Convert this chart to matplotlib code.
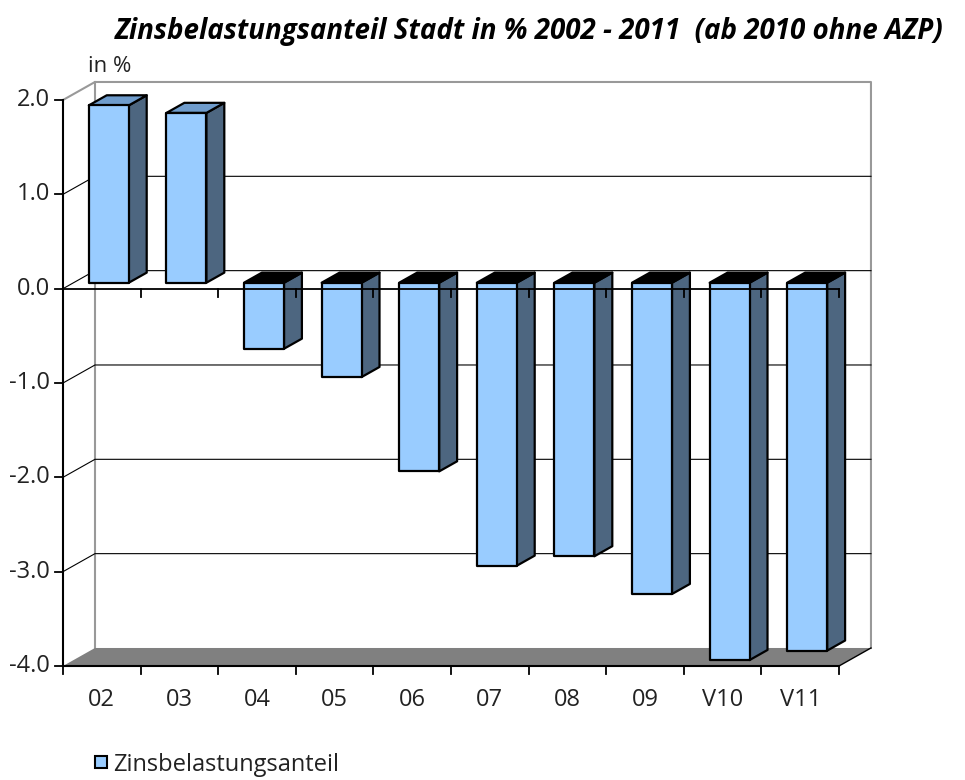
import matplotlib.pyplot as plt
from matplotlib.patches import Polygon, Rectangle

categories = ['02', '03', '04', '05', '06', '07', '08', '09', 'V10', 'V11']
values = [1.88, 1.80, -0.70, -1.00, -2.00, -3.00, -2.90, -3.30, -4.00, -3.90]
yticks = [2.0, 1.0, 0.0, -1.0, -2.0, -3.0, -4.0]
title = 'Zinsbelastungsanteil Stadt in % 2002 - 2011  (ab 2010 ohne AZP)'
unit_label = 'in %'
legend_label = 'Zinsbelastungsanteil'

FRONT = '#99ccff'
SIDE = '#4d6680'
TOP_POS = '#6f9ccc'
FLOOR = '#808080'
WALL = '#999999'
FONT = 'Open Sans'

W, H = 965, 780
fig = plt.figure(figsize=(W / 100, H / 100), dpi=100)
ax = fig.add_axes([63 / W, (H - 666) / H, 776 / W, 566 / H])
ymin, ymax = yticks[-1], yticks[0]
n = len(categories)
ax.set_xlim(0, n)
ax.set_ylim(ymin, ymax)
ax.axis('off')

# depth of the fake 3d box in data units
DX, DY = 0.412, 0.191

# back wall and side wall
ax.plot([0, DX, n + DX, n + DX], [ymax, ymax + DY, ymax + DY, ymin + DY],
        color=WALL, lw=1.5, clip_on=False, zorder=1)
ax.plot([DX, DX], [ymin + DY, ymax + DY], color=WALL, lw=1.5, clip_on=False, zorder=1)
for t in yticks[1:-1]:
    ax.plot([0, DX, n + DX], [t, t + DY, t + DY], color='black', lw=0.8,
            clip_on=False, zorder=1)

# floor
floor = Polygon([(0, ymin), (n, ymin), (n + DX, ymin + DY), (DX, ymin + DY)],
                closed=True, facecolor=FLOOR, edgecolor='none', zorder=2, clip_on=False)
ax.add_patch(floor)
ax.plot([n, n + DX], [ymin, ymin + DY], color='black', lw=1, clip_on=False, zorder=2)

# bars
f0, f1 = 0.33, 0.89
a, w = 0.197, 0.515
d = f1 - f0
for i, v in enumerate(values):
    x0 = i + a + f0 * DX
    yb = f0 * DY
    kw = dict(closed=True, edgecolor='black', lw=1.6, joinstyle='round', clip_on=False, zorder=3)
    ax.add_patch(Polygon([(x0 + w, yb), (x0 + w, yb + v), (x0 + w + d * DX, yb + v + d * DY),
                          (x0 + w + d * DX, yb + d * DY)], facecolor=SIDE, **kw))
    yt = yb + max(v, 0)
    ax.add_patch(Polygon([(x0, yt), (x0 + w, yt), (x0 + w + d * DX, yt + d * DY),
                          (x0 + d * DX, yt + d * DY)],
                         facecolor=TOP_POS if v > 0 else 'black', **kw))
    ax.add_patch(Polygon([(x0, yb), (x0 + w, yb), (x0 + w, yb + v), (x0, yb + v)],
                         facecolor=FRONT, **kw))

# axes lines and ticks
tk_y = 0.085
tk_x = 0.1
ax.plot([0, 0], [ymin, ymax], color='black', lw=1.5, clip_on=False, zorder=4)
ax.plot([0, n], [0, 0], color='black', lw=1.3, clip_on=False, zorder=4)
ax.plot([0, n], [ymin, ymin], color='black', lw=1.5, clip_on=False, zorder=4)
for i in range(n + 1):
    ax.plot([i, i], [0, -tk_y], color='black', lw=1.3, clip_on=False, zorder=4)
    ax.plot([i, i], [ymin, ymin - tk_y], color='black', lw=1.3, clip_on=False, zorder=4)
for t in yticks:
    ax.plot([-tk_x, 0], [t, t], color='black', lw=1.3, clip_on=False, zorder=4)
    ax.text(-0.17, t, f'{t:.1f}', ha='right', va='center', fontsize=17,
            family=FONT, color='#222222')
for i, c in enumerate(categories):
    ax.text(i + 0.5, ymin - 0.36, c, ha='center', va='center', fontsize=17,
            family=FONT, color='#222222')

fig.text(529 / W, 1 - 31 / H, title, ha='center', va='center', fontsize=20,
         fontweight='bold', style='italic', family=FONT)
fig.text(88 / W, 1 - 67 / H, unit_label, ha='left', va='center', fontsize=16,
         family=FONT, color='#222222')

# legend
fig.patches.append(Rectangle((95 / W, 1 - 768 / H), 12 / W, 12 / H, transform=fig.transFigure,
                             facecolor=FRONT, edgecolor='black', lw=1.5))
fig.text(113 / W, 1 - 765 / H, legend_label, ha='left', va='center', fontsize=17,
         family=FONT, color='#222222')

fig.savefig('out.png', dpi=100)
